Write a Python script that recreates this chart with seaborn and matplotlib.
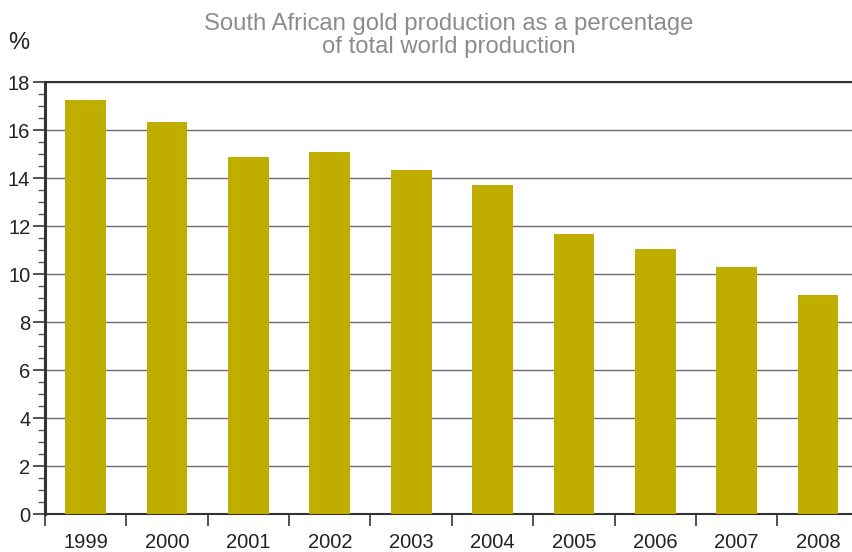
import matplotlib
matplotlib.use("Agg")
import matplotlib.pyplot as plt
from matplotlib.ticker import MultipleLocator, FixedLocator
import seaborn as sns
import pandas as pd
import numpy as np

# South African share of world gold output, per year
years = ["1999", "2000", "2001", "2002", "2003", "2004", "2005", "2006", "2007", "2008"]
share_pct = [17.26, 16.35, 14.89, 15.10, 14.35, 13.72, 11.68, 11.05, 10.30, 9.14]

title_lines = ["South African gold production as a percentage", "of total world production"]
y_unit = "%"

df = pd.DataFrame({"year": years, "share": share_pct})

sns.set_style("white")
plt.rcParams["font.family"] = ["Liberation Sans", "DejaVu Sans"]

fig = plt.figure(figsize=(8.53, 5.52), dpi=100)
ax = fig.add_axes([45 / 853, 38 / 552, 1 - 45 / 853, (469.7 - 38) / 552])

sns.barplot(data=df, x="year", y="share", order=years, color="#bfae00",
            saturation=1, width=0.5, linewidth=0, ax=ax, zorder=3)

ax.set_xlim(-0.5, 9.43)
ax.set_ylim(0, 18)
ax.set_xlabel("")
ax.set_ylabel("")

# horizontal grid at each major y tick
ax.yaxis.set_major_locator(MultipleLocator(2))
ax.yaxis.set_minor_locator(MultipleLocator(0.5))
ax.grid(axis="y", which="major", color="#6b6b6b", linewidth=1.0, zorder=1)
ax.grid(axis="x", visible=False)
ax.set_axisbelow(True)

ax.spines["right"].set_visible(False)
ax.spines["top"].set_color("#333333")
ax.spines["top"].set_linewidth(1.5)
ax.spines["left"].set_color("#333333")
ax.spines["left"].set_linewidth(2.2)
ax.spines["bottom"].set_color("#333333")
ax.spines["bottom"].set_linewidth(1.5)

ax.tick_params(axis="y", which="major", direction="out", length=8.6, width=1.2,
               color="#333333", labelsize=14.5, labelcolor="#222222", pad=2, left=True)
ax.tick_params(axis="y", which="minor", direction="out", length=5, width=1.0,
               color="#555555", left=True)

# year labels centred on bars, tick marks at category boundaries
ax.set_xticks(range(len(years)))
ax.set_xticklabels(years)
ax.xaxis.set_minor_locator(FixedLocator(np.arange(-0.5, len(years), 1.0)))
ax.tick_params(axis="x", which="major", length=0, labelsize=14.5, labelcolor="#222222",
               pad=13.5, bottom=True)
ax.tick_params(axis="x", which="minor", direction="out", length=8.6, width=1.2,
               color="#333333", bottom=True)

fig.text(8 / 853, 1 - 43 / 552, y_unit, fontsize=17, color="#222222",
         ha="left", va="center")

fig.text(449 / 853, 1 - 35.5 / 552, "\n".join(title_lines), fontsize=17.2,
         color="#8c8c8c", ha="center", va="center", linespacing=1.05)

fig.savefig("out.png", dpi=100)
